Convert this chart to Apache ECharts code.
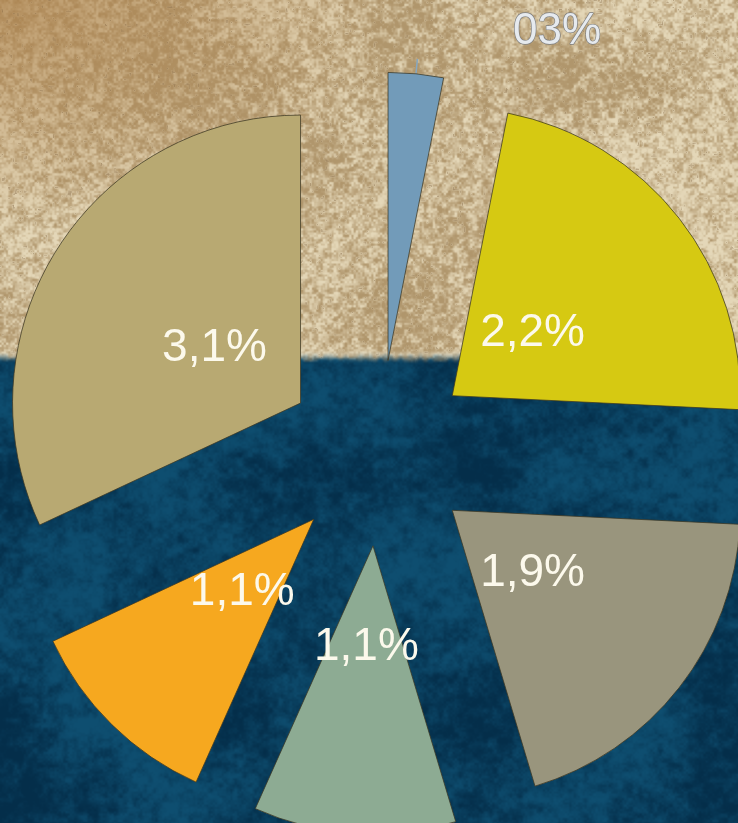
<!DOCTYPE html>
<html>
<head>
<meta charset="utf-8">
<title>Pie</title>
<script src="https://cdn.jsdelivr.net/npm/echarts@6/dist/echarts.min.js"></script>
<style>
  html, body { margin: 0; padding: 0; background: #0a4466; }
  #chart { width: 738px; height: 823px; }
</style>
</head>
<body>
<div id="chart"></div>
<script>
// Slice data (clockwise from 12 o'clock)
const categories = ['S1', 'S2', 'S3', 'S4', 'S5', 'S6'];
const values = [0.3, 2.2, 1.9, 1.1, 1.1, 3.1];
const sliceLabels = ['03%', '2,2%', '1,9%', '1,1%', '1,1%', '3,1%'];
const sliceColors = ['#729bb9', '#d6c912', '#99957d', '#8dab93', '#f6a81f', '#b8a972'];

const W = 738, H = 823;

// ---- textured backdrop: sand above, deep water below ----
function hash(x, y, s) {
  const n = Math.sin(x * 127.1 + y * 311.7 + s * 74.7) * 43758.5453;
  return n - Math.floor(n);
}
function valueNoise(cell, seed) {
  return function (x, y) {
    const gx = x / cell, gy = y / cell;
    const x0 = Math.floor(gx), y0 = Math.floor(gy);
    let fx = gx - x0, fy = gy - y0;
    fx = fx * fx * (3 - 2 * fx); fy = fy * fy * (3 - 2 * fy);
    const a = hash(x0, y0, seed), b = hash(x0 + 1, y0, seed);
    const c = hash(x0, y0 + 1, seed), d = hash(x0 + 1, y0 + 1, seed);
    return a + (b - a) * fx + (c - a) * fy + (a - b - c + d) * fx * fy;
  };
}
function clamp01(v) { return v < 0 ? 0 : v > 1 ? 1 : v; }
function smooth(e0, e1, v) { const t = clamp01((v - e0) / (e1 - e0)); return t * t * (3 - 2 * t); }
function mix(a, b, t) { return [a[0] + (b[0] - a[0]) * t, a[1] + (b[1] - a[1]) * t, a[2] + (b[2] - a[2]) * t]; }

function buildBackdrop() {
  const cv = document.createElement('canvas');
  cv.width = W; cv.height = H;
  const ctx = cv.getContext('2d');
  const img = ctx.createImageData(W, H);
  const big = valueNoise(80, 1), mid = valueNoise(5, 2), fine = valueNoise(2.2, 3), blot = valueNoise(14, 4);
  const sandDark = [176, 150, 108], sandLight = [228, 215, 184], sandWarm = [172, 128, 74];
  const waterDark = [4, 46, 74], waterLight = [14, 78, 112];
  for (let y = 0; y < H; y++) {
    for (let x = 0; x < W; x++) {
      const nb = big(x, y), nm = mid(x, y), nf = fine(x, y);
      // sand
      const t = 0.3 * nb + 0.35 * nm + 0.35 * nf;
      let sand = mix(sandDark, sandLight, smooth(0.2, 0.8, t));
      const corner = clamp01(1 - Math.hypot(x * 0.85, y * 1.5) / 340);
      sand = mix(sand, sandWarm, corner * 0.7);
      if (nf > 0.82 && nm < 0.45) sand = mix(sand, [120, 90, 55], (nf - 0.82) * 2.5);
      // water
      const nl = blot(x, y * 1.3);
      const u = 0.45 * nb + 0.2 * nm + 0.1 * nf + 0.25 * nl;
      const water = mix(waterDark, waterLight, smooth(0.2, 0.8, u));
      // seam between the two halves
      const b = smooth(352, 363, y + (nm - 0.5) * 4);
      let col = mix(sand, water, b);
      const band = Math.exp(-Math.pow((y - 354) / 3.2, 2)) * 0.3;
      col = mix(col, [222, 224, 210], band);
      const i = (y * W + x) * 4;
      img.data[i] = col[0]; img.data[i + 1] = col[1]; img.data[i + 2] = col[2]; img.data[i + 3] = 255;
    }
  }
  ctx.putImageData(img, 0, 0);
  return cv;
}

const backdrop = buildBackdrop();

const pieCenter = [379, 453];
const explode = 93;
const labelFont = 'Liberation Sans, Arial, sans-serif';

const sliceData = values.map((v, i) => ({
  name: categories[i],
  value: v,
  selected: true,
  itemStyle: { color: sliceColors[i] },
  // short leader stub above the thin slice
  label: i === 0 ? { show: true, position: 'outside', formatter: ' ', fontSize: 10 } : { show: false },
  labelLine: i === 0 ? { show: true, length: 15, length2: 0, smooth: false, lineStyle: { color: '#86a8c2', width: 1.5 } } : { show: false }
}));

const labelData = values.map((v, i) => ({
  name: categories[i],
  value: v,
  selected: true,
  label: i === 0 ? {
    position: 'outside',
    fontSize: 44,
    color: '#e6eaee',
    textBorderColor: '#7c7e80',
    textBorderWidth: 1.3
  } : {},
  labelLine: { show: false, length: 132, length2: 88 }
}));

const chart = echarts.init(document.getElementById('chart'), null, { renderer: 'canvas' });
chart.setOption({
  animation: false,
  backgroundColor: '#0a4466',
  graphic: [{
    type: 'image',
    silent: true,
    z: -10,
    style: { image: backdrop, x: 0, y: 0, width: W, height: H }
  }],
  series: [
    {
      type: 'pie',
      center: pieCenter,
      radius: [0, 288],
      startAngle: 90,
      clockwise: true,
      selectedMode: 'multiple',
      selectedOffset: explode,
      avoidLabelOverlap: false,
      labelLayout: { hideOverlap: false },
      itemStyle: { borderColor: 'rgba(60,55,35,0.75)', borderWidth: 1 },
      emphasis: { disabled: true },
      select: { itemStyle: { borderColor: 'rgba(60,55,35,0.75)', borderWidth: 1 } },
      data: sliceData
    },
    {
      type: 'pie',
      center: pieCenter,
      radius: [0, 198],
      startAngle: 90,
      clockwise: true,
      selectedMode: 'multiple',
      selectedOffset: explode,
      silent: true,
      avoidLabelOverlap: false,
      labelLayout: { hideOverlap: false },
      itemStyle: { color: 'rgba(0,0,0,0)', borderWidth: 0 },
      select: { itemStyle: { color: 'rgba(0,0,0,0)', borderWidth: 0 } },
      emphasis: { disabled: true },
      label: {
        show: true,
        position: 'inside',
        formatter: p => sliceLabels[p.dataIndex],
        fontFamily: labelFont,
        fontSize: 46,
        color: '#fcf9ec'
      },
      data: labelData
    }
  ]
});
</script>
</body>
</html>
